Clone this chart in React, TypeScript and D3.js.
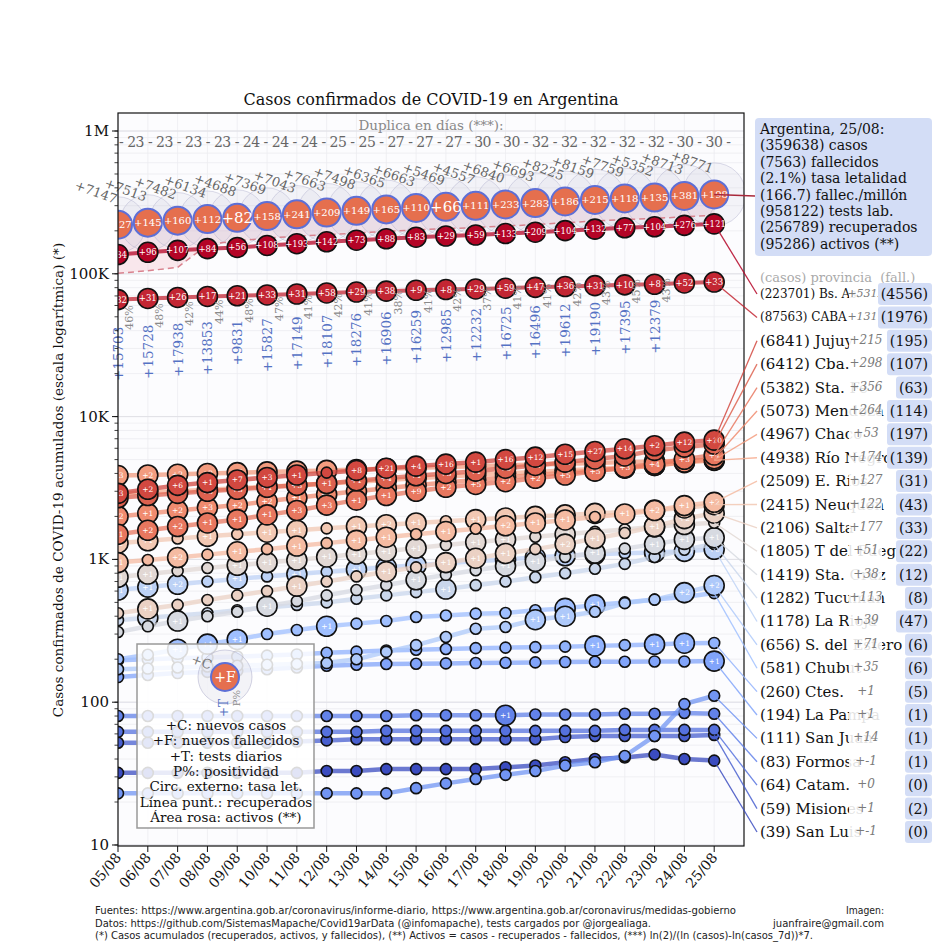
import React from "react";
import * as d3 from "d3";

const DATES = ["05/08", "06/08", "07/08", "08/08", "09/08", "10/08", "11/08", "12/08", "13/08", "14/08", "15/08", "16/08", "17/08", "18/08", "19/08", "20/08", "21/08", "22/08", "23/08", "24/08", "25/08"];

// Argentina totals
const AR_CASES = [220682, 228195, 235677, 241811, 246499, 253868, 260911, 268574, 276072, 282437, 289100, 294569, 299126, 305966, 312659, 320884, 329043, 336802, 342154, 350867, 359638];
const AR_NEW_CASES = [7147, 7513, 7482, 6134, 4688, 7369, 7043, 7663, 7498, 6365, 6663, 5469, 4557, 6840, 6693, 8225, 8159, 7759, 5352, 8713, 8771];
const AR_DEATHS = [4106, 4251, 4411, 4523, 4605, 4763, 5004, 5213, 5362, 5527, 5637, 5703, 5814, 6047, 6330, 6516, 6731, 6849, 6984, 7365, 7563];
const AR_NEW_DEATHS = [127, 145, 160, 112, 82, 158, 241, 209, 149, 165, 110, 66, 111, 233, 283, 186, 215, 118, 135, 381, 198];
const AR_RECOVERED = [101000, 105000, 111000, 160000, 170000, 178000, 183000, 188000, 193000, 198000, 203000, 207000, 211000, 216000, 221000, 228000, 234000, 240000, 244000, 251000, 256789];
const TESTS = [15703, 15728, 17938, 13853, 9831, 15827, 17149, 18107, 18276, 16906, 16259, 12985, 12232, 16725, 16496, 19612, 19190, 17395, 12379];
const POSITIVITY = [46, 48, 42, 44, 48, 47, 41, 42, 41, 38, 41, 42, 37, 41, 41, 42, 43, 45, 43];
const DOUBLING = [23, 23, 23, 23, 24, 24, 24, 25, 25, 27, 27, 27, 30, 30, 32, 32, 32, 32, 32, 30, 30];

const AR_SUMMARY = [
  "Argentina, 25/08:",
  "(359638) casos",
  "(7563) fallecidos",
  "(2.1%) tasa letalidad",
  "(166.7) fallec./millón",
  "(958122) tests lab.",
  "(256789) recuperados",
  "(95286) activos (**)",
];

// Provinces, ordered by cases on 25/08
const PROV_NAMES = ["Bs. As.", "CABA", "Jujuy", "Cba.", "Sta. Fe", "Mendoza", "Chaco", "Río Negro", "E. Ríos", "Neuquén", "Salta", "T del Fuego", "Sta. Cruz", "Tucumán", "La Rioja", "S. del Estero", "Chubut", "Ctes.", "La Pampa", "San Juan", "Formosa", "Catam.", "Misiones", "San Luis"];
const PROV_TOTAL_DEATHS = [4556, 1976, 195, 107, 63, 114, 197, 139, 31, 43, 33, 22, 12, 8, 47, 6, 6, 5, 1, 1, 1, 0, 2, 0];
const PROV_LAST_NEW = [5312, 1311, 215, 298, 356, 264, 53, 174, 127, 122, 177, 51, 38, 113, 39, 71, 35, 1, 1, 14, -1, 0, 1, -1];

const PROV_CASES = [
  [136500, 141500, 146000, 150000, 153000, 158000, 162500, 167500, 172000, 176000, 180500, 184000, 187000, 191500, 195500, 200500, 205500, 210000, 213500, 218389, 223701],
  [66000, 67200, 68300, 69400, 70200, 71100, 72200, 73400, 74500, 75600, 76700, 77600, 78300, 79300, 80400, 81500, 82600, 83700, 84500, 86252, 87563],
  [2900, 3100, 3300, 3450, 3600, 3750, 3900, 4050, 4200, 4350, 4500, 4650, 4800, 5000, 5200, 5450, 5700, 5950, 6250, 6626, 6841],
  [2700, 2800, 2900, 3000, 3100, 3200, 3300, 3400, 3550, 3700, 3850, 4000, 4150, 4350, 4550, 4800, 5050, 5300, 5800, 6114, 6412],
  [1500, 1600, 1700, 1800, 1900, 2050, 2200, 2400, 2600, 2800, 3000, 3200, 3350, 3500, 3700, 3900, 4150, 4400, 4650, 5026, 5382],
  [2000, 2100, 2200, 2300, 2400, 2550, 2700, 2850, 3000, 3150, 3300, 3450, 3600, 3750, 3900, 4050, 4200, 4350, 4550, 4809, 5073],
  [3865, 3900, 3950, 4000, 4050, 4100, 4150, 4200, 4260, 4320, 4380, 4440, 4500, 4560, 4620, 4680, 4740, 4800, 4850, 4914, 4967],
  [2897, 2950, 3000, 3080, 3150, 3230, 3300, 3400, 3500, 3600, 3700, 3800, 3900, 4000, 4100, 4200, 4300, 4400, 4550, 4764, 4938],
  [950, 990, 1030, 1080, 1130, 1180, 1240, 1300, 1360, 1430, 1500, 1570, 1640, 1720, 1800, 1890, 1980, 2080, 2200, 2382, 2509],
  [1300, 1350, 1400, 1450, 1500, 1550, 1600, 1650, 1700, 1750, 1800, 1850, 1900, 1950, 2000, 2050, 2100, 2150, 2220, 2293, 2415],
  [420, 450, 480, 520, 560, 600, 650, 700, 760, 820, 880, 950, 1020, 1100, 1180, 1280, 1400, 1530, 1700, 1929, 2106],
  [750, 790, 830, 870, 910, 950, 990, 1040, 1090, 1140, 1200, 1260, 1320, 1380, 1440, 1500, 1560, 1620, 1690, 1754, 1805],
  [310, 340, 370, 400, 430, 470, 510, 560, 610, 660, 720, 780, 840, 900, 970, 1040, 1110, 1190, 1280, 1381, 1419],
  [375, 390, 405, 420, 440, 460, 480, 500, 530, 560, 590, 620, 660, 700, 750, 800, 860, 930, 1040, 1169, 1282],
  [610, 640, 670, 700, 730, 760, 790, 820, 850, 880, 910, 940, 970, 1000, 1030, 1060, 1085, 1105, 1120, 1139, 1178],
  [170, 172, 175, 178, 180, 183, 185, 188, 200, 225, 251, 286, 327, 336, 378, 400, 430, 494, 523, 585, 656],
  [200, 215, 235, 255, 275, 300, 320, 340, 355, 370, 395, 405, 417, 421, 440, 454, 480, 500, 523, 546, 581],
  [197, 200, 203, 206, 209, 212, 216, 222, 226, 230, 233, 236, 239, 241, 243, 245, 248, 251, 254, 259, 260],
  [150, 155, 160, 163, 166, 170, 175, 180, 183, 185, 186, 187, 188, 189, 190, 191, 192, 192, 193, 193, 194],
  [23, 23, 23, 23, 23, 23, 23, 23, 23, 23, 25, 27, 29, 31, 33, 36, 38, 42, 58, 97, 111],
  [80, 80, 80, 80, 80, 80, 80, 80, 80, 80, 81, 81, 81, 81, 82, 82, 82, 83, 83, 84, 83],
  [62, 62, 62, 62, 62, 62, 62, 62, 62, 63, 63, 63, 63, 63, 63, 63, 63, 64, 64, 64, 64],
  [52, 52, 52, 52, 52, 52, 53, 54, 55, 55, 55, 55, 55, 55, 55, 57, 58, 58, 58, 58, 59],
  [32, 32, 32, 32, 32, 32, 32, 33, 33, 34, 34, 34, 34, 35, 36, 38, 40, 41, 43, 40, 39],
];

const PROV_NEW_DEATHS = [
  [84, 96, 107, 84, 56, 108, 193, 142, 73, 88, 83, 29, 59, 133, 209, 104, 132, 77, 104, 276, 121],
  [32, 31, 26, 17, 21, 33, 31, 58, 29, 38, 9, 8, 29, 59, 47, 36, 31, 10, 8, 52, 33],
  [3, 2, 6, 1, 7, 3, 1, 0, 8, 21, 4, 16, 1, 16, 12, 15, 27, 14, 2, 12, 10],
  [2, 4, 9, 3, 3, 1, 3, 1, 1, 4, 1, 3, 1, 6, 8, 3, 3, 4, 9, 4, 3],
  [1, 2, 2, 1, 1, 1, 3, 3, 1, 1, 9, 2, 5, 2, 2, 5, 5, 3, 4, 3, 4],
  [2, 1, 2, 3, 2, 2, 1, 1, 7, 2, 2, 3, 2, 2, 2, 4, 4, 3, 4, 5, 1],
  [3, 2, 2, 2, 5, 3, 2, 3, 4, 4, 3, 3, 2, 2, 4, 2, 2, 3, 1, 4, 2],
  [2, 2, 1, 1, 3, 1, 2, 1, 2, 1, 1, 1, 2, 3, 4, 3, 2, 1, 2, 2, 3],
  [1, 0, 2, 0, 1, 0, 1, 0, 1, 1, 0, 1, 0, 2, 1, 1, 0, 1, 2, 1, 2],
  [1, 1, 0, 1, 0, 1, 1, 0, 1, 2, 1, 0, 1, 1, 2, 2, 1, 0, 1, 1, 1],
  [0, 1, 0, 0, 0, 0, 1, 0, 0, 1, 0, 1, 1, 1, 0, 2, 1, 0, 1, 2, 2],
  [1, 1, 0, 0, 1, 1, 1, 1, 1, 1, 1, 0, 1, 1, 0, 1, 0, 0, 1, 1, 0],
  [0, 0, 1, 0, 0, 1, 0, 0, 0, 0, 1, 0, 0, 1, 1, 0, 1, 0, 1, 1, 1],
  [0, 1, 0, 0, 0, 0, 0, 0, 0, 0, 0, 1, 0, 0, 0, 0, 0, 0, 0, 0, 0],
  [1, 1, 2, 0, 1, 0, 1, 0, 1, 1, 1, 1, 0, 1, 1, 2, 1, 0, 10, 10, 6],
  [0, 0, 0, 0, 0, 0, 0, 0, 0, 0, 0, 0, 0, 0, 1, 1, 0, 0, 0, 2, 2],
  [0, 0, 1, 1, 1, 0, 0, 1, 0, 0, 0, 0, 0, 0, 0, 1, 1, 0, 0, 0, 0],
  [0, 0, 0, 0, 0, 0, 0, 0, 0, 0, 0, 0, 0, 0, 0, 0, 1, 0, 1, 1, 0],
  [0, 0, 0, 0, 0, 0, 0, 0, 0, 0, 0, 0, 0, 0, 0, 0, 0, 0, 0, 0, 1],
  [0, 0, 0, 0, 0, 0, 0, 0, 0, 0, 0, 0, 0, 0, 0, 0, 0, 0, 0, 0, 0],
  [0, 0, 0, 0, 0, 0, 0, 0, 0, 0, 0, 0, 0, 1, 0, 0, 0, 0, 0, 0, 0],
  [0, 0, 0, 0, 0, 0, 0, 0, 0, 0, 0, 0, 0, 0, 0, 0, 0, 0, 0, 0, 0],
  [0, 0, 0, 0, 0, 0, 0, 0, 0, 0, 0, 0, 0, 0, 0, 0, 0, 0, 0, 0, 0],
  [0, 0, 0, 0, 0, 0, 0, 0, 0, 0, 0, 0, 0, 0, 0, 0, 0, 0, 0, 0, 0],
];

const Y_TICKS = [10, 100, 1000, 10000, 100000, 1000000];
const Y_TICK_LABELS = ["10", "100", "1K", "10K", "100K", "1M"];

const LEGEND_LINES = [
  "+C: nuevos casos",
  "+F: nuevos fallecidos",
  "+T: tests diarios",
  "P%: positividad",
  "Circ. externo: tasa let.",
  "Línea punt.: recuperados",
  "Área rosa: activos (**)",
];

const FOOTER = [
  "Fuentes: https://www.argentina.gob.ar/coronavirus/informe-diario, https://www.argentina.gob.ar/coronavirus/medidas-gobierno",
  "Datos: https://github.com/SistemasMapache/Covid19arData (@infomapache), tests cargados por @jorgealiaga.",
  "(*) Casos acumulados (recuperados, activos, y fallecidos), (**) Activos = casos - recuperados - fallecidos, (***) ln(2)/(ln (casos)-ln(casos_7d))*7.",
];
const FOOTER_WIDTHS = [641, 556, 718];

const COOLWARM = ["#3b4cc0", "#5977e3", "#7b9ff9", "#9ebeff", "#c0d4f5", "#dddcdc", "#f2cbb7", "#f7ac8e", "#ee8468", "#d65244", "#b40426"];

const PL = 118;
const PR = 744;
const PT = 113;
const PB = 846;
const SERIF = "'DejaVu Serif', serif";

export default function App() {
  const x = d3.scaleLinear().domain([0, 21]).range([PL, PR]);
  const y = d3.scaleLog().domain([9.84, 1.337e6]).range([PB, PT]);
  const cw = d3
    .scaleLinear<string>()
    .domain(d3.range(11).map((i) => i / 10))
    .range(COOLWARM)
    .interpolate(d3.interpolateRgb);
  const provColor = (i: number) => cw(1 - i / 23);

  const line = d3
    .line<number>()
    .x((_, i) => x(i))
    .y((d) => y(d));
  const recoveredArea = d3
    .area<number>()
    .x((_, i) => x(i))
    .y0((_, i) => y(AR_RECOVERED[i]))
    .y1((d) => y(d));

  const minorTicks: number[] = [];
  for (let e = 1; e <= 6; e++) {
    for (let k = 1; k <= 9; k++) {
      const v = k * Math.pow(10, e);
      if (v <= 1.337e6) minorTicks.push(v);
    }
  }

  const rowY = (i: number) => 294 + i * 23.39;
  const last = DATES.length - 1;
  const provOrder = d3.range(PROV_NAMES.length).reverse();
  const doublingText = "- " + DOUBLING.join(" - ") + " -";

  return (
    <svg
      width={950}
      height={950}
      style={{ position: "absolute", left: 0, top: 0, background: "#fff" }}
      fontFamily={SERIF}
    >
      <defs>
        <clipPath id="plotClip">
          <rect x={PL} y={PT} width={PR - PL} height={PB - PT} />
        </clipPath>
      </defs>

      <text x={431} y={105} textAnchor="middle" fontSize={16} fill="#111">
        Casos confirmados de COVID-19 en Argentina
      </text>

      {/* plot background and grid */}
      <rect x={PL} y={PT} width={PR - PL} height={PB - PT} fill="#fcfcfe" />
      <g stroke="#ececf0" strokeWidth={0.8}>
        {minorTicks.map((v) => (
          <line key={"hg" + v} x1={PL} x2={PR} y1={y(v)} y2={y(v)} />
        ))}
        {DATES.map((d, i) => (
          <line key={"vg" + d} x1={x(i)} x2={x(i)} y1={PT} y2={PB} />
        ))}
      </g>
      <g stroke="#e0e0e6" strokeWidth={1}>
        {Y_TICKS.map((v) => (
          <line key={"hm" + v} x1={PL} x2={PR} y1={y(v)} y2={y(v)} />
        ))}
      </g>

      <g clipPath="url(#plotClip)">
        {/* active cases area and recovered line */}
        <path d={recoveredArea(AR_CASES) || ""} fill="#f2b6c2" opacity={0.3} />
        {AR_CASES.map((c, i) => (
          <circle
            key={"outer" + i}
            cx={x(i)}
            cy={y(c)}
            r={(AR_DEATHS[i] / c) * 1500}
            fill="#c4c4d8"
            fillOpacity={0.16}
            stroke="#a8a8c8"
            strokeOpacity={0.4}
            strokeWidth={1}
          />
        ))}
        <path
          d={line(AR_RECOVERED) || ""}
          fill="none"
          stroke="#d9828e"
          strokeWidth={1.5}
          strokeDasharray="6,4"
        />

        {/* provinces */}
        {provOrder.map((p) => {
          const col = provColor(p);
          const big = p < 2;
          return (
            <g key={"prov" + p}>
              <path
                d={line(PROV_CASES[p]) || ""}
                fill="none"
                stroke={col}
                strokeWidth={big ? 4 : 4.5}
                strokeOpacity={0.75}
              />
              {PROV_CASES[p].map((v, i) => {
                const nd = PROV_NEW_DEATHS[p][i];
                const r = big || nd > 0 ? 10 : 5.5;
                return (
                  <g key={i}>
                    <circle cx={x(i)} cy={y(v)} r={r} fill={col} stroke="#111" strokeWidth={1.6} />
                    {nd > 0 && (
                      <text
                        x={x(i)}
                        y={y(v)}
                        textAnchor="middle"
                        dominantBaseline="central"
                        fontSize={big ? 8.5 : 7.5}
                        fill="#fff"
                      >
                        {"+" + nd}
                      </text>
                    )}
                  </g>
                );
              })}
            </g>
          );
        })}

        {/* Argentina */}
        {AR_CASES.map((c, i) => {
          const lbl = "+" + AR_NEW_DEATHS[i];
          return (
            <g key={"ar" + i}>
              <circle cx={x(i)} cy={y(c)} r={14} fill="#e56f4e" stroke="#5d6fd6" strokeWidth={2} />
              <text
                x={x(i)}
                y={y(c)}
                textAnchor="middle"
                dominantBaseline="central"
                fontSize={lbl.length <= 3 ? 15 : 10}
                fill="#fff"
              >
                {lbl}
              </text>
            </g>
          );
        })}
      </g>

      {/* new cases labels */}
      {AR_CASES.map((c, i) => {
        const lx = x(i) - 3;
        const ly = y(c) - 21;
        return (
          <text
            key={"nc" + i}
            x={lx}
            y={ly}
            textAnchor="end"
            fontSize={13}
            fill="#666"
            transform={`rotate(20 ${lx} ${ly})`}
          >
            {"+" + AR_NEW_CASES[i]}
          </text>
        );
      })}

      {/* tests and positivity */}
      {TESTS.map((t, i) => {
        const tx = x(i);
        const ty = y(AR_CASES[i]) + 102;
        const px = x(i) + 12;
        const py = ty + 3;
        return (
          <g key={"t" + i}>
            <text
              x={tx}
              y={ty}
              textAnchor="end"
              dominantBaseline="central"
              fontSize={13.5}
              fill="#5572c4"
              transform={`rotate(-90 ${tx} ${ty})`}
            >
              {"+" + t}
            </text>
            <text
              x={px}
              y={py}
              textAnchor="start"
              dominantBaseline="central"
              fontSize={11}
              fill="#8a8a8a"
              transform={`rotate(-90 ${px} ${py})`}
            >
              {POSITIVITY[i] + "%"}
            </text>
          </g>
        );
      })}

      {/* doubling days */}
      <text x={431} y={130} textAnchor="middle" fontSize={13.5} fill="#888">
        Duplica en días (***):
      </text>
      <text x={119} y={147} fontSize={14} fill="#666" textLength={612} lengthAdjust="spacing">
        {doublingText}
      </text>

      {/* legend inset */}
      <g>
        <rect x={137} y={644} width={177} height={184} fill="#fff" fillOpacity={0.85} stroke="#999" strokeWidth={1.5} />
        <circle cx={225} cy={677} r={27} fill="#c4c4d8" fillOpacity={0.2} stroke="#a8a8c8" strokeOpacity={0.5} />
        <circle cx={225} cy={677} r={14} fill="#e56f4e" stroke="#5d6fd6" strokeWidth={2} />
        <text x={225} y={677} textAnchor="middle" dominantBaseline="central" fontSize={14} fill="#fff">
          +F
        </text>
        <text x={200} y={666} textAnchor="middle" fontSize={13} fill="#777" transform="rotate(20 200 666)">
          +C
        </text>
        <text x={224} y={708} textAnchor="middle" dominantBaseline="central" fontSize={12} fill="#5572c4" transform="rotate(-90 224 708)">
          +T
        </text>
        <text x={236} y={698} textAnchor="middle" dominantBaseline="central" fontSize={10} fill="#8a8a8a" transform="rotate(-90 236 698)">
          P%
        </text>
        {LEGEND_LINES.map((t, i) => (
          <text key={t} x={226} y={730 + i * 15.3} textAnchor="middle" fontSize={13.5} fill="#111">
            {t}
          </text>
        ))}
      </g>

      {/* axes */}
      <rect x={PL} y={PT} width={PR - PL} height={PB - PT} fill="none" stroke="#111" strokeWidth={1.2} />
      <g stroke="#111">
        {minorTicks.map((v) => (
          <line key={"mt" + v} x1={PL - 3.5} x2={PL} y1={y(v)} y2={y(v)} strokeWidth={0.8} />
        ))}
        {Y_TICKS.map((v) => (
          <line key={"Mt" + v} x1={PL - 6} x2={PL} y1={y(v)} y2={y(v)} strokeWidth={1} />
        ))}
        {DATES.map((d, i) => (
          <line key={"xt" + d} x1={x(i)} x2={x(i)} y1={PB} y2={PB + 6} strokeWidth={1} />
        ))}
      </g>
      {Y_TICKS.map((v, i) => (
        <text key={"yl" + v} x={PL - 9} y={y(v)} textAnchor="end" dominantBaseline="central" fontSize={15} fill="#111">
          {Y_TICK_LABELS[i]}
        </text>
      ))}
      {DATES.map((d, i) => {
        const lx = x(i) + 4;
        const ly = PB + 12;
        return (
          <text key={"xl" + d} x={lx} y={ly} textAnchor="end" fontSize={14} fill="#111" transform={`rotate(-50 ${lx} ${ly})`}>
            {d}
          </text>
        );
      })}
      <text
        x={58}
        y={480}
        textAnchor="middle"
        dominantBaseline="central"
        fontSize={13.6}
        fill="#111"
        transform="rotate(-90 58 480)"
      >
        Casos confirmados de COVID-19 acumulados (escala logarítmica) (*)
      </text>

      {/* Argentina summary box */}
      <rect x={755} y={118} width={177} height={138} rx={4} fill="#d3ddf6" />
      {AR_SUMMARY.map((t, i) => (
        <text key={t} x={760} y={129 + i * 16.4} dominantBaseline="central" fontSize={14} fill="#111">
          {t}
        </text>
      ))}
      <line x1={x(last)} y1={y(AR_CASES[last])} x2={755} y2={196} stroke="#a8283a" strokeWidth={1.5} />

      {/* province labels */}
      <text x={760} y={277} dominantBaseline="central" fontSize={13} fill="#aaa">
        (casos) provincia{"\u00a0\u00a0"}(fall.)
      </text>
      {PROV_NAMES.map((name, p) => {
        const ry = rowY(p);
        const v = PROV_CASES[p][last];
        const nTxt = "+" + PROV_LAST_NEW[p];
        const dTxt = "(" + PROV_TOTAL_DEATHS[p] + ")";
        const dW = String(PROV_TOTAL_DEATHS[p]).length * 9 + 11;
        return (
          <g key={"lab" + name}>
            <line
              x1={x(last)}
              y1={y(v)}
              x2={757}
              y2={ry}
              stroke={provColor(p)}
              strokeWidth={1.3}
              strokeOpacity={0.85}
            />
            <text x={760} y={ry} dominantBaseline="central" fontSize={p < 2 ? 12 : 15} fill="#111">
              {"(" + v + ") " + name}
            </text>
            <rect x={849} y={ry - 10} width={33} height={20} fill="#fff" fillOpacity={0.88} />
            <text
              x={866}
              y={ry - 1}
              textAnchor="middle"
              dominantBaseline="central"
              fontSize={nTxt.length > 4 ? 11 : 12}
              fontStyle="italic"
              fill="#7a7a7a"
            >
              {nTxt}
            </text>
            <rect x={928 - dW - 3} y={ry - 11} width={dW + 7} height={22} rx={3} fill="#d3ddf6" />
            <text x={928} y={ry} textAnchor="end" dominantBaseline="central" fontSize={14.2} fill="#111">
              {dTxt}
            </text>
          </g>
        );
      })}

      {/* footer */}
      {FOOTER.map((t, i) => (
        <text
          key={"f" + i}
          x={95}
          y={914 + i * 12.5}
          fontSize={10.5}
          fontFamily="'DejaVu Sans', sans-serif"
          fill="#222"
          textLength={FOOTER_WIDTHS[i]}
          lengthAdjust="spacingAndGlyphs"
        >
          {t}
        </text>
      ))}
      <text x={884} y={914} textAnchor="end" fontSize={10.5} fontFamily="'DejaVu Sans', sans-serif" fill="#222" textLength={38} lengthAdjust="spacingAndGlyphs">
        Imagen:
      </text>
      <text x={884} y={926.5} textAnchor="end" fontSize={10.5} fontFamily="'DejaVu Sans', sans-serif" fill="#222" textLength={111} lengthAdjust="spacingAndGlyphs">
        juanfraire@gmail.com
      </text>
    </svg>
  );
}
